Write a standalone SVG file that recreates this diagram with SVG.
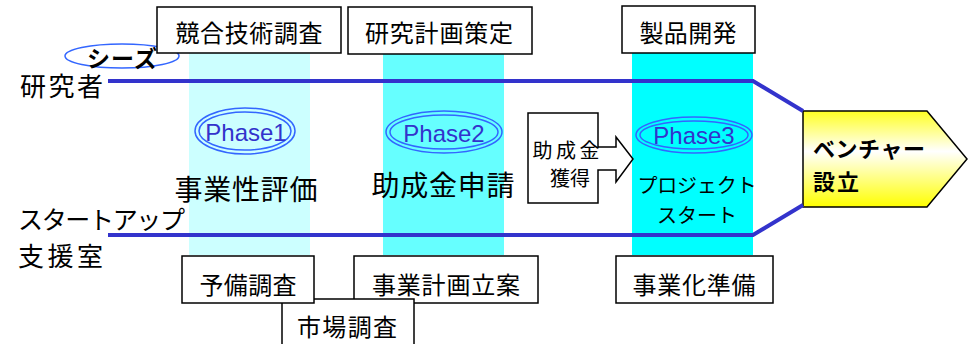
<svg xmlns="http://www.w3.org/2000/svg" width="973" height="344" viewBox="0 0 973 344">
<defs>
<style>
.box{fill:#fff;stroke:#000;stroke-width:1.5}
.jp{font-family:"Noto Sans CJK JP","Noto Sans",sans-serif;fill:#000;text-anchor:middle;dominant-baseline:central}
.ph{font-family:"Liberation Sans",Arial,sans-serif;font-size:24px;fill:#3333CC;text-anchor:middle;dominant-baseline:central}
.ell{fill:none;stroke:#3366FF;stroke-width:1.5}
.lane{fill:none;stroke:#3333CC;stroke-width:4;stroke-linejoin:miter}
</style>
<linearGradient id="yg" x1="0" y1="0" x2="0" y2="1">
<stop offset="0" stop-color="#FFFF22"/>
<stop offset="0.42" stop-color="#FFFFFF"/>
<stop offset="1" stop-color="#FFFF00"/>
</linearGradient>
</defs>
<rect width="973" height="344" fill="#fff"/>

<g id="columns">
<rect x="189" y="53" width="121" height="202" fill="#CCFFFF"/>
<rect x="383" y="54" width="121" height="201" fill="#66FFFF"/>
<rect x="632" y="53" width="121" height="202" fill="#00FFFF"/>
</g>

<g id="venture">
<polygon points="803,111 927,111 967,159 927,207 803,207" fill="url(#yg)" stroke="#000" stroke-width="1.5"/>
<text class="jp" x="813" y="147" font-size="22" font-weight="bold" style="text-anchor:start" textLength="112">ベンチャー</text>
<text class="jp" x="813" y="180" font-size="22" font-weight="bold" style="text-anchor:start" textLength="46">設立</text>
</g>

<g id="connectors">
<polyline class="lane" points="108,81 753,81 803,111"/>
<polyline class="lane" points="108,235 753,235 803,205"/>
</g>

<g id="lane-labels">
<text class="jp" x="20" y="84" font-size="26" style="text-anchor:start" textLength="83">研究者</text>
<text class="jp" x="18" y="218" font-size="25" style="text-anchor:start" textLength="167">スタートアップ</text>
<text class="jp" x="18" y="254" font-size="26" style="text-anchor:start" textLength="85">支援室</text>
</g>

<g id="seeds">
<ellipse class="ell" cx="122" cy="56" rx="57" ry="12"/>
<text class="jp" x="122" y="57" font-size="23" font-weight="bold" textLength="70">シーズ</text>
</g>

<g id="box-kyogo">
<rect class="box" x="157" y="7" width="184" height="46"/>
<text class="jp" x="249" y="31" font-size="24" textLength="147">競合技術調査</text>
</g>
<g id="box-kenkyu">
<rect class="box" x="348" y="7" width="184" height="47"/>
<text class="jp" x="439" y="31" font-size="24" textLength="148">研究計画策定</text>
</g>
<g id="box-seihin">
<rect class="box" x="622" y="6" width="133" height="47"/>
<text class="jp" x="688" y="31" font-size="24" textLength="97">製品開発</text>
</g>

<g id="phase1">
<ellipse class="ell" cx="245" cy="131" rx="50" ry="23"/>
<ellipse class="ell" cx="245" cy="131" rx="46" ry="19"/>
<text class="ph" x="246" y="132">Phase1</text>
<text class="jp" x="246" y="188" font-size="28" textLength="143">事業性評価</text>
</g>
<g id="phase2">
<ellipse class="ell" cx="444" cy="132" rx="58" ry="21"/>
<ellipse class="ell" cx="444" cy="132" rx="54" ry="17"/>
<text class="ph" x="444" y="133">Phase2</text>
<text class="jp" x="443" y="184" font-size="28" textLength="143">助成金申請</text>
</g>
<g id="phase3">
<ellipse class="ell" cx="694" cy="135" rx="58" ry="18"/>
<ellipse class="ell" cx="694" cy="135" rx="54" ry="14"/>
<text class="ph" x="694" y="135">Phase3</text>
<text class="jp" x="697" y="184" font-size="20" textLength="119">プロジェクト</text>
<text class="jp" x="697" y="214" font-size="20" textLength="80">スタート</text>
</g>

<g id="grant">
<polygon points="528,113 598,113 598,147 616,147 616,137 633,159 616,182 616,170 598,170 598,203 528,203" fill="#fff" stroke="#000" stroke-width="1.5"/>
<text class="jp" x="566" y="149" font-size="20" textLength="67">助成金</text>
<text class="jp" x="570" y="177" font-size="20">獲得</text>
</g>

<g id="box-jigyokeikaku">
<rect class="box" x="354" y="256" width="184" height="47"/>
<text class="jp" x="446" y="283" font-size="24" textLength="148">事業計画立案</text>
</g>
<g id="box-shijo">
<rect class="box" x="282" y="299" width="132" height="50"/>
<text class="jp" x="347" y="325" font-size="24" textLength="100">市場調査</text>
</g>
<g id="box-yobi">
<rect class="box" x="182" y="256" width="132" height="47"/>
<text class="jp" x="248" y="283" font-size="24" textLength="97">予備調査</text>
</g>
<g id="box-jigyoka">
<rect class="box" x="616" y="256" width="157" height="47"/>
<text class="jp" x="694" y="283" font-size="24" textLength="123">事業化準備</text>
</g>
</svg>
